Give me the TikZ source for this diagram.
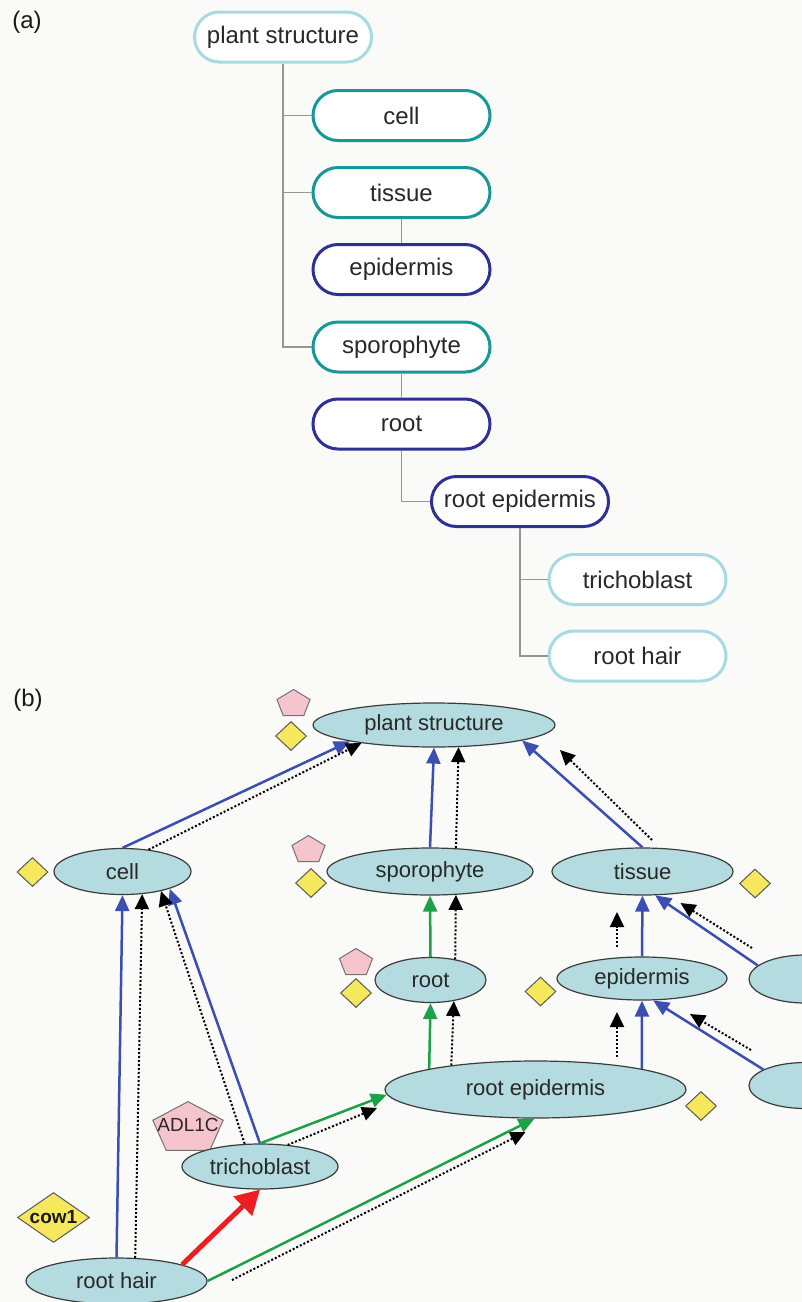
\documentclass[tikz,border=0pt]{standalone}
\usepackage{fontspec}
\setmainfont{Liberation Sans}
\usetikzlibrary{arrows.meta,shapes.geometric,calc}
\definecolor{bg}{RGB}{250,250,248}
\definecolor{lblue}{RGB}{168,218,226}
\definecolor{teal2}{RGB}{22,152,152}
\definecolor{dblue}{RGB}{46,48,150}
\definecolor{gline}{RGB}{150,150,150}
\definecolor{efill}{RGB}{180,219,223}
\definecolor{eline}{RGB}{60,60,60}
\definecolor{ydia}{RGB}{246,232,92}
\definecolor{ppent}{RGB}{246,196,204}
\definecolor{bl}{RGB}{58,78,180}
\definecolor{gr}{RGB}{30,160,70}
\definecolor{rd}{RGB}{236,30,36}
\definecolor{txt}{RGB}{40,40,40}
\begin{document}
\begin{tikzpicture}[x=1pt,y=-1pt,
  tbox/.style={draw, line width=3pt, fill=white, rounded corners=25pt, minimum width=177pt, minimum height=50pt, inner sep=0pt, font=\fontsize{24pt}{28pt}\selectfont, text=txt},
  tline/.style={draw=gline, line width=1.5pt},
  enode/.style={ellipse, draw=eline, line width=1.2pt, fill=efill, inner sep=0pt, font=\fontsize{22pt}{26pt}\selectfont, text=txt},
  ydiam/.style={diamond, draw=black!65, line width=1pt, fill=ydia, inner sep=0pt, minimum width=31pt, minimum height=29pt},
  pent/.style={regular polygon, regular polygon sides=5, draw=black!55, line width=1pt, fill=ppent, inner sep=0pt},
  bluearr/.style={draw=bl, line width=2.5pt, -{Triangle[length=16pt,width=14pt]}},
  grarr/.style={draw=gr, line width=2.5pt, -{Triangle[length=16pt,width=14pt]}},
  redarr/.style={draw=rd, line width=5pt, -{Triangle[length=24pt,width=26pt]}},
  dotarr/.style={draw=black, line width=2pt, dash pattern=on 2pt off 2pt, -{Triangle[length=15pt,width=14pt]}},
  lab/.style={font=\fontsize{24pt}{28pt}\selectfont, text=black!90}
]
\clip (0,0) rectangle (802,1302);
\fill[bg] (0,0) rectangle (802,1302);

% ---------- (a) ----------
\node[lab] (la) at (27,22) {(a)};
\node[tbox, draw=lblue] (aps) at (283,37) {plant structure};
\node[tbox, draw=teal2] (acell) at (401.5,115.5) {cell};
\node[tbox, draw=teal2] (atis) at (401.5,192.5) {tissue};
\node[tbox, draw=dblue] (aepi) at (401.5,269.5) {epidermis};
\node[tbox, draw=teal2] (aspo) at (401.5,347) {sporophyte};
\node[tbox, draw=dblue] (aroot) at (401.5,424) {root};
\node[tbox, draw=dblue] (are) at (520,501.5) {root epidermis};
\node[tbox, draw=lblue] (atri) at (637.5,579.5) {trichoblast};
\node[tbox, draw=lblue] (arh) at (637.5,656) {root hair};

\draw[tline] (aps.south) |- (acell.west);
\draw[tline] (aps.south) |- (atis.west);
\draw[tline] (aps.south) |- (aspo.west);
\draw[tline] (atis.south) -- (aepi.north);
\draw[tline] (aspo.south) -- (aroot.north);
\draw[tline] (aroot.south) |- (are.west);
\draw[tline] (are.south) |- (atri.west);
\draw[tline] (are.south) |- (arh.west);

% ---------- (b) ----------
\node[lab] (lb) at (28,700) {(b)};

\begin{scope}[shift={(293.5,704)}]
  \node[pent, minimum size=29pt, xscale=1.2] (p1) at (0,0) {};
\end{scope}
\begin{scope}[shift={(308.5,850)}]
  \node[pent, minimum size=29pt, xscale=1.2] (p2) at (0,0) {};
\end{scope}
\begin{scope}[shift={(356,963)}]
  \node[pent, minimum size=29pt, xscale=1.2] (p3) at (0,0) {};
\end{scope}
\begin{scope}[shift={(188,1128.6)}]
  \node[pent, minimum size=54pt, xscale=1.37] (p4) at (0,0) {};
\end{scope}
\node[font=\fontsize{19pt}{21pt}\selectfont, text=txt] (adltxt) at (188,1125) {ADL1C};

\node[ydiam] (d1) at (291,736) {};
\node[ydiam] (d2) at (32.5,872) {};
\node[ydiam] (d3) at (311,883) {};
\node[ydiam] (d4) at (356,993) {};
\node[ydiam] (d5) at (755,883.5) {};
\node[ydiam] (d6) at (540.5,991.5) {};
\node[ydiam] (d7) at (701,1106) {};
\node[ydiam, minimum width=72pt, minimum height=50pt, aspect=1.4, font=\bfseries\fontsize{19pt}{21pt}\selectfont, text=black!90] (cow) at (53.5,1217.5) {cow1};

\node[enode, minimum width=242pt, minimum height=44pt] (ps) at (434,725) {plant structure};
\node[enode, minimum width=137pt, minimum height=46pt] (cell) at (122.5,871.5) {cell};
\node[enode, minimum width=206pt, minimum height=47pt] (spo) at (430,871.5) {sporophyte};
\node[enode, minimum width=181pt, minimum height=47pt] (tis) at (642.5,871.5) {tissue};
\node[enode, minimum width=111pt, minimum height=45pt] (root) at (430.5,980) {root};
\node[enode, minimum width=170pt, minimum height=43pt] (epi) at (642,978.5) {epidermis};
\node[enode, minimum width=112pt, minimum height=48pt] (r1) at (805,979) {};
\node[enode, minimum width=112pt, minimum height=46pt] (r2) at (805,1085.5) {};
\node[enode, minimum width=301pt, minimum height=57pt] (re) at (535.5,1089.5) {root epidermis};
\node[enode, minimum width=156pt, minimum height=45pt] (tri) at (260,1166.5) {trichoblast};
\node[enode, minimum width=181pt, minimum height=46pt] (rh) at (116.5,1281) {root hair};

% blue edges
\draw[bluearr] (cell.north) -- (ps.191);
\draw[bluearr] (spo.north) -- (ps.south);
\draw[bluearr] (tis.north) -- (ps.350);
\draw[bluearr] (epi.north) -- (tis.south);
\draw[bluearr] (r1.164) -- (tis.298);
\draw[bluearr] (re.11) -- (epi.south);
\draw[bluearr] (r2.159) -- (epi.297);
\draw[bluearr] (rh.north) -- (cell.south);
\draw[bluearr] (tri.north) -- (cell.340);
% green edges
\draw[grarr] (root.north) -- (spo.south);
\draw[grarr] (re.169) -- (root.south);
\draw[grarr] (tri.north) -- (re.182);
\draw[grarr] (rh.east) -- (re.268);
% red edge
\draw[redarr] (rh.14) -- (tri.south);
% dotted edges
\draw[dotarr] (cell.40) -- (ps.194);
\draw[dotarr] (spo.42) -- (ps.318);
\draw[dotarr] ($(tis)+(9.5,-31.5)$) -- ($(ps)+(126,25)$);
\draw[dotarr] (root.40) -- (spo.318);
\draw[dotarr] ($(epi)+(-25,-31.5)$) -- ($(tis)+(-25.5,40.5)$);
\draw[dotarr] ($(r1)+(-53,-31)$) -- ($(tis)+(38,31.5)$);
\draw[dotarr] (re.164) -- (root.318);
\draw[dotarr] ($(re)+(81.5,-32.5)$) -- ($(epi)+(-25,33.5)$);
\draw[dotarr] ($(r2)+(-54,-35.5)$) -- ($(epi)+(48,35.5)$);
\draw[dotarr] (tri.38) -- ($(re)+(-158.5,18.5)$);
\draw[dotarr] ($(rh)+(115.5,-1)$) -- ($(re)+(-10,42.5)$);
\draw[dotarr] (rh.51) -- (cell.311);
\draw[dotarr] (tri.124) -- (cell.333);
\end{tikzpicture}
\end{document}
